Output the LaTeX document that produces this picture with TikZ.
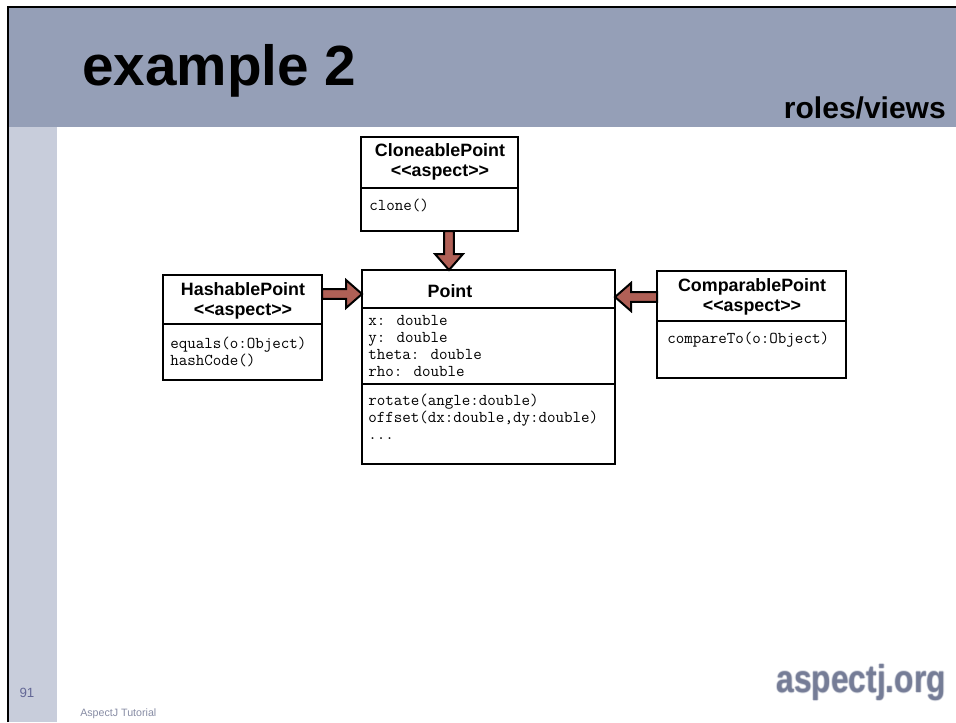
\documentclass[tikz,border=0pt]{standalone}
\usepackage{fontspec}
\setmainfont{Liberation Sans}
\newfontfamily\logofont{Liberation Sans}[FakeStretch=0.82]
\usetikzlibrary{calc}

\definecolor{headerblue}{RGB}{149,159,183}
\definecolor{stripblue}{RGB}{200,205,219}
\definecolor{arrowred}{RGB}{176,96,86}
\definecolor{pagenum}{RGB}{100,104,150}
\definecolor{footgray}{RGB}{136,141,165}
\definecolor{logogray}{RGB}{108,116,144}

\tikzset{
  umlbox/.style={draw=black, line width=1.5pt, fill=white, anchor=north west,
                 inner sep=0pt, outer sep=0pt},
  divider/.style={draw=black, line width=1.5pt},
  classname/.style={font=\fontsize{13.4}{14.6}\selectfont\bfseries, align=center, inner sep=0pt},
  members/.style={font=\ttfamily\fontsize{12.4}{12.75}\selectfont, align=left,
                  anchor=north west, inner sep=0pt},
  blockarrow/.style={draw=black, line width=1.5pt, fill=arrowred, line join=miter},
}

% block arrow from tail coordinate #1 to tip coordinate #2
\newcommand\blockarrow[2]{%
  \path ($(#2)!12pt!(#1)$) coordinate (hb);
  \draw[blockarrow] ($(#1)!3.6pt!90:(#2)$) -- ($(hb)!3.6pt!90:(#2)$)
    -- ($(hb)!10.5pt!90:(#2)$) -- (#2) -- ($(hb)!10.5pt!-90:(#2)$)
    -- ($(hb)!3.6pt!-90:(#2)$) -- ($(#1)!3.6pt!-90:(#2)$) -- cycle;
}

\begin{document}
\begin{tikzpicture}[x=0.75pt, y=-0.75pt]
  \useasboundingbox (0,0) rectangle (956,722);
  \fill[white] (0,0) rectangle (956,722);

  % slide frame
  \fill[headerblue] (8,7) rectangle (956,127);
  \fill[stripblue] (8,127) rectangle (57,722);
  \draw[black, line width=1.5pt] (8,722) -- (8,7) -- (956,7);

  % titles
  \node[anchor=base west, inner sep=0pt, font=\fontsize{42.5}{50}\selectfont\bfseries]
    (title) at (82,85) {example 2};
  \node[anchor=base east, inner sep=0pt, font=\fontsize{22.5}{26}\selectfont\bfseries]
    (subtitle) at (946,118) {roles/views};

  % class boxes
  \node[umlbox, minimum width=117.75pt, minimum height=70.5pt] (clone) at (361,137) {};
  \node[umlbox, minimum width=189.75pt, minimum height=145.5pt] (point) at (362,270) {};
  \node[umlbox, minimum width=119.25pt, minimum height=78.75pt] (hash) at (163,275) {};
  \node[umlbox, minimum width=141.75pt, minimum height=80.25pt] (comp) at (657,271) {};

  % compartments
  \draw[divider] (clone.west |- 0,188) -- (clone.east |- 0,188);
  \draw[divider] (point.west |- 0,308) -- (point.east |- 0,308);
  \draw[divider] (point.west |- 0,384) -- (point.east |- 0,384);
  \draw[divider] (hash.west |- 0,324) -- (hash.east |- 0,324);
  \draw[divider] (comp.west |- 0,321) -- (comp.east |- 0,321);

  % CloneablePoint
  \node[classname] (cloneName) at (440,162) {CloneablePoint\\<{}<aspect>{}>};
  \node[members] (cloneOps) at (369,199) {clone()};

  % Point
  \node[classname] (pointName) at (450,291) {Point};
  \node[members] (pointAttrs) at (368,315) {x: double\\y: double\\theta: double\\rho: double};
  \node[members] (pointOps) at (368,394) {rotate(angle:double)\\offset(dx:double,dy:double)\\...};

  % HashablePoint
  \node[classname] (hashName) at (243,301) {HashablePoint\\<{}<aspect>{}>};
  \node[members] (hashOps) at (170,337) {equals(o:Object)\\hashCode()};

  % ComparablePoint
  \node[classname] (compName) at (752,297) {ComparablePoint\\<{}<aspect>{}>};
  \node[members] (compOps) at (667,332) {compareTo(o:Object)};

  % introductions into Point
  \coordinate (c1) at (clone.south -| 449,0);
  \coordinate (c2) at (point.north -| 449,0);
  \blockarrow{c1}{c2}
  \coordinate (h1) at (hash.east |- 0,294);
  \coordinate (h2) at (point.west |- 0,294);
  \blockarrow{h1}{h2}
  \coordinate (p1) at (comp.west |- 0,297);
  \coordinate (p2) at (point.east |- 0,297);
  \blockarrow{p1}{p2}

  % footer
  \node[inner sep=0pt, text=pagenum, font=\fontsize{10}{11}\selectfont] (pagenr) at (27,693) {91};
  \node[anchor=base west, inner sep=0pt, text=footgray, font=\fontsize{8}{10}\selectfont]
    (footer) at (80,716) {AspectJ Tutorial};
  \foreach \dx/\dy/\op in {-1/0/0.25, 1/0/0.25, 0/-1/0.25, 0/1/0.25, 0/0/0.8} {
    \node[anchor=base east, inner sep=0pt, text=logogray, opacity=\op,
          font=\logofont\fontsize{29}{32}\selectfont\bfseries]
      at (946+\dx,692+\dy) {aspectj.org};
  }
\end{tikzpicture}
\end{document}
